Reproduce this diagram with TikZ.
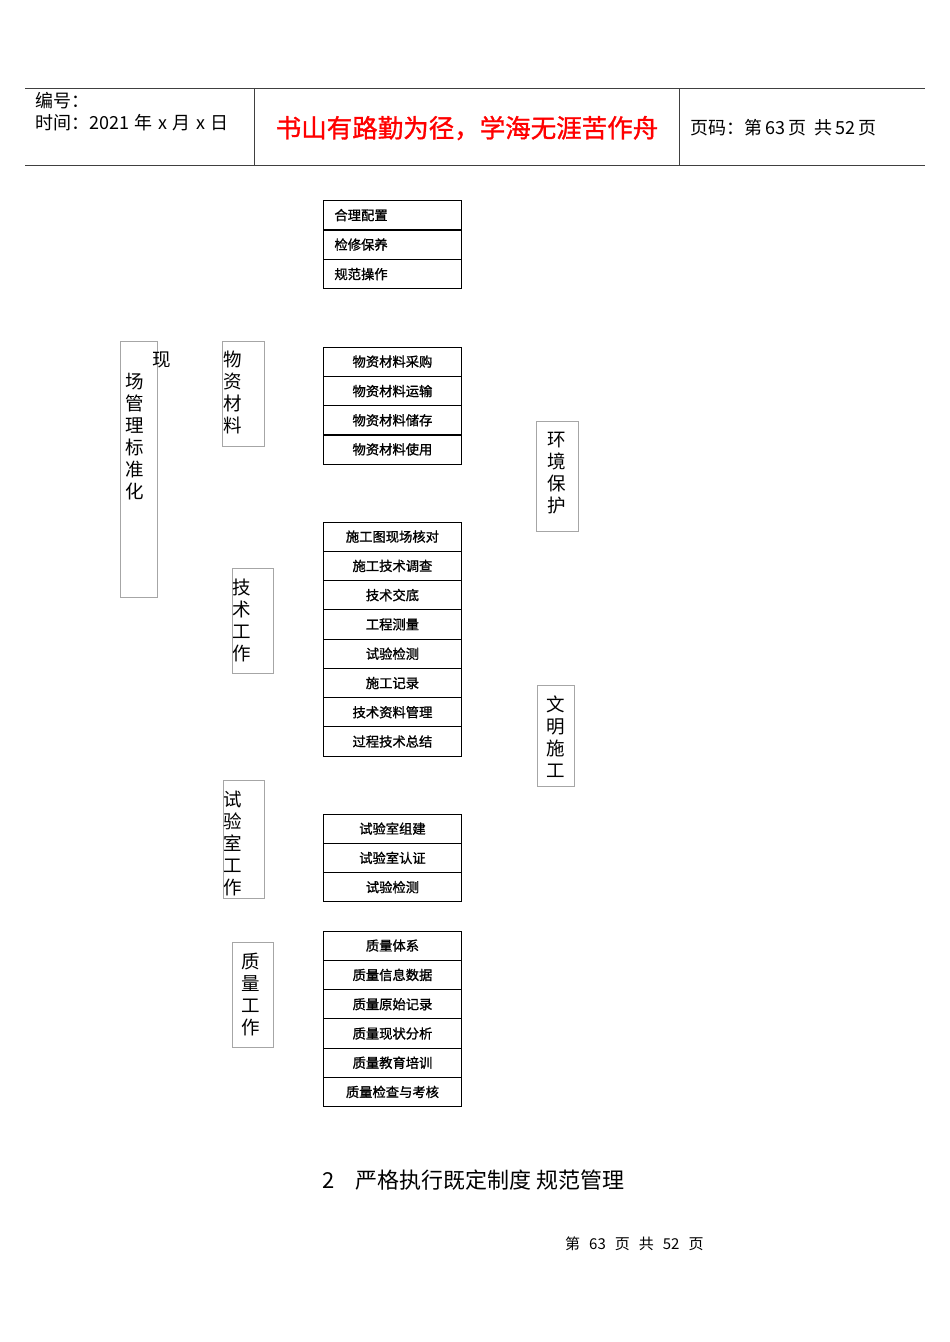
\documentclass[tikz,border=0pt]{standalone}
\usepackage{fontspec}
\setmainfont{Noto Sans CJK SC}
\newfontfamily\cjkbold[FakeBold=1.2]{Noto Sans CJK SC}
\begin{document}
\begin{tikzpicture}[x=1pt,y=-1pt,
  rowbox/.style={draw=black,line width=0.9pt,minimum width=138pt,minimum height=29.3pt,inner sep=0pt,font=\fontsize{13.3}{15}\selectfont\cjkbold,anchor=north west},
  rowleft/.style={rowbox,text width=116pt,align=left},
  vbox/.style={draw=black!35,line width=0.7pt,anchor=north west,inner sep=0pt},
  vtext/.style={font=\fontsize{18.5}{22}\selectfont,align=center,anchor=north,inner sep=0pt},
  hdr/.style={font=\fontsize{18}{21}\selectfont,anchor=west,inner sep=0pt}]
\useasboundingbox (0,0) rectangle (950,1342);
% header
\draw[line width=0.8pt,black!75] (25,88) -- (925,88);
\draw[line width=0.8pt,black!75] (25,165) -- (925,165);
\draw[line width=0.8pt,black!75] (254,88) -- (254,165);
\draw[line width=0.8pt,black!75] (679,88) -- (679,165);
\node[hdr] (bh) at (35,101) {编号：};
\node[hdr] (sj) at (35,123) {时间：2021\hspace{5.5pt}年\hspace{5.5pt}x\hspace{5.5pt}月\hspace{5.5pt}x\hspace{5.5pt}日};
\node[font=\fontsize{25.5}{28}\selectfont\cjkbold,text=red,inner sep=0pt] (motto) at (467,128) {书山有路勤为径，学海无涯苦作舟};
\node[hdr] (ym) at (690,128) {页码：第\,63\,页\ \ 共\,52\,页};
% stack 1
\node[rowleft] (a1) at (323,200) {合理配置};
\node[rowleft] (a2) at (323,229.5) {检修保养};
\node[rowleft] (a3) at (323,259) {规范操作};
% stack 2
\node[rowbox] (b1) at (323,346.5) {物资材料采购};
\node[rowbox] (b2) at (323,376) {物资材料运输};
\node[rowbox] (b3) at (323,405.2) {物资材料储存};
\node[rowbox] (b4) at (323,434.3) {物资材料使用};
% stack 3
\node[rowbox] (c1) at (323,521.5) {施工图现场核对};
\node[rowbox] (c2) at (323,550.8) {施工技术调查};
\node[rowbox] (c3) at (323,580) {技术交底};
\node[rowbox] (c4) at (323,609.3) {工程测量};
\node[rowbox] (c5) at (323,638.6) {试验检测};
\node[rowbox] (c6) at (323,667.9) {施工记录};
\node[rowbox] (c7) at (323,697.1) {技术资料管理};
\node[rowbox] (c8) at (323,726.4) {过程技术总结};
% stack 4
\node[rowbox] (d1) at (323,813.5) {试验室组建};
\node[rowbox] (d2) at (323,842.8) {试验室认证};
\node[rowbox] (d3) at (323,872) {试验检测};
% stack 5
\node[rowbox] (e1) at (323,930.5) {质量体系};
\node[rowbox] (e2) at (323,959.8) {质量信息数据};
\node[rowbox] (e3) at (323,989.1) {质量原始记录};
\node[rowbox] (e4) at (323,1018.4) {质量现状分析};
\node[rowbox] (e5) at (323,1047.6) {质量教育培训};
\node[rowbox] (e6) at (323,1076.8) {质量检查与考核};
% vertical boxes
\node[vbox,minimum width=37pt,minimum height=256pt] (xc) at (120,341) {};
\node[font=\fontsize{18.5}{22}\selectfont,inner sep=0pt] (xct) at (162,360) {现};
\node[vtext] (xcb) at (135,373) {场\\管\\理\\标\\准\\化};
\node[vbox,minimum width=42pt,minimum height=105pt] (wz) at (222,341) {};
\node[vtext] (wzt) at (233,351) {物\\资\\材\\料};
\node[vbox,minimum width=41pt,minimum height=105pt] (js) at (232,568) {};
\node[vtext] (jst) at (242,579) {技\\术\\工\\作};
\node[vbox,minimum width=41pt,minimum height=118pt] (sy) at (223,780) {};
\node[vtext] (syt) at (233,791) {试\\验\\室\\工\\作};
\node[vbox,minimum width=41pt,minimum height=105pt] (zl) at (232,942) {};
\node[vtext] (zlt) at (251,953) {质\\量\\工\\作};
\node[vbox,minimum width=42pt,minimum height=110pt] (hj) at (536,421) {};
\node[vtext] (hjt) at (557,432) {环\\境\\保\\护};
\node[vbox,minimum width=37pt,minimum height=101pt] (wm) at (537,685) {};
\node[vtext] (wmt) at (556,696) {文\\明\\施\\工};
% bottom text
\node[font=\fontsize{22}{25}\selectfont,anchor=west,inner sep=0pt] (yg) at (322,1180) {2\hspace{21pt}严格执行既定制度\ 规范管理};
\node[font=\fontsize{15}{18}\selectfont,anchor=west,inner sep=0pt] (ft) at (565,1244) {第\hspace{9pt}63\hspace{9pt}页\hspace{9pt}共\hspace{9pt}52\hspace{9pt}页};
\end{tikzpicture}
\end{document}
